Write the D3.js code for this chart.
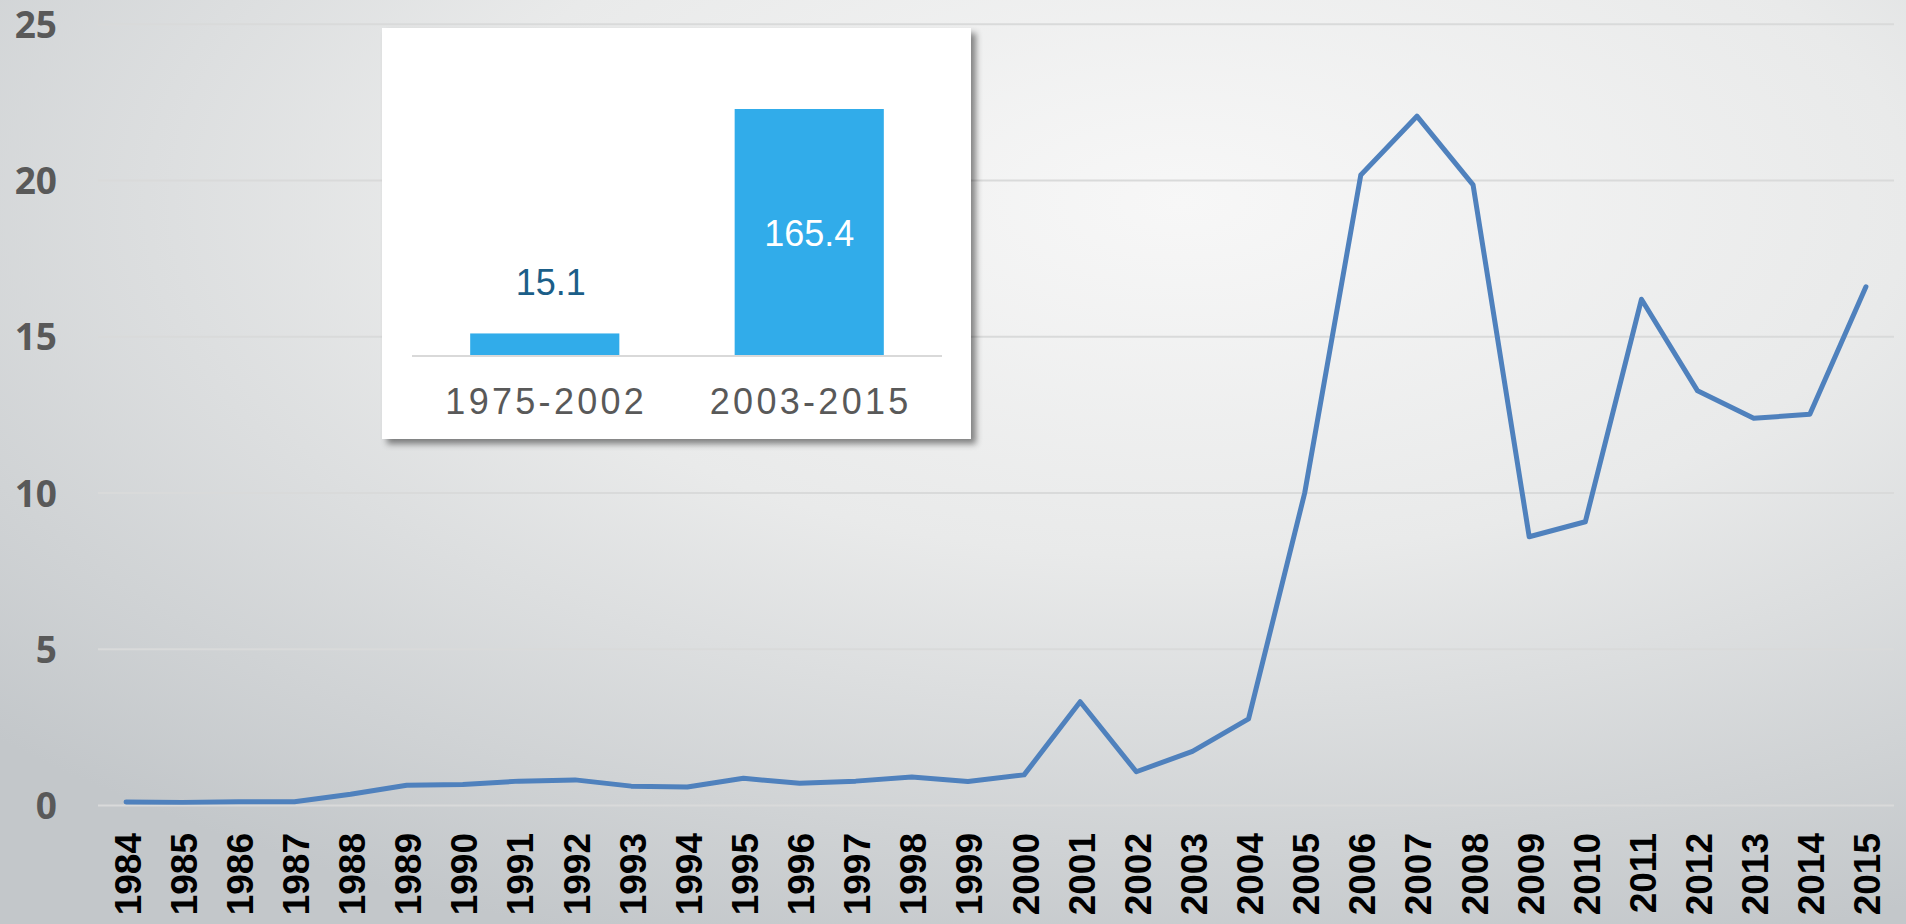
<!DOCTYPE html>
<html>
<head>
<meta charset="utf-8">
<script src="https://cdn.jsdelivr.net/npm/d3@7"></script>
<style>
  body { margin: 0; overflow: hidden; }
  svg { display: block; }
</style>
</head>
<body>
<div id="chart"></div>
<script>
// yearly series
const years = ["1984", "1985", "1986", "1987", "1988", "1989", "1990", "1991",
  "1992", "1993", "1994", "1995", "1996", "1997", "1998", "1999", "2000",
  "2001", "2002", "2003", "2004", "2005", "2006", "2007", "2008", "2009",
  "2010", "2011", "2012", "2013", "2014", "2015"];
const values = [0.11, 0.10, 0.12, 0.12, 0.36, 0.65, 0.67, 0.78, 0.82, 0.62,
  0.59, 0.87, 0.71, 0.78, 0.91, 0.77, 0.98, 3.32, 1.08, 1.73, 2.77, 10.0,
  20.18, 22.06, 19.86, 8.60, 9.08, 16.20, 13.27, 12.39, 12.52, 16.60];
const yTicks = [0, 5, 10, 15, 20, 25];

// inset totals
const periods = ["1975-2002", "2003-2015"];
const totals = [15.1, 165.4];

const W = 1906, H = 924;

const svg = d3.select("#chart").append("svg")
  .attr("width", W)
  .attr("height", H);

const defs = svg.append("defs");
const grad = defs.append("radialGradient")
  .attr("id", "bg")
  .attr("cx", "62%").attr("cy", "22%").attr("r", "85%");
grad.append("stop").attr("offset", "0%").attr("stop-color", "#f7f7f7");
grad.append("stop").attr("offset", "45%").attr("stop-color", "#e9eaea");
grad.append("stop").attr("offset", "100%").attr("stop-color", "#c3c7ca");

const shadow = defs.append("filter")
  .attr("id", "shadow")
  .attr("x", "-10%").attr("y", "-10%")
  .attr("width", "125%").attr("height", "125%");
shadow.append("feDropShadow")
  .attr("dx", 5).attr("dy", 5)
  .attr("stdDeviation", 3)
  .attr("flood-color", "#000")
  .attr("flood-opacity", 0.45);

svg.append("rect")
  .attr("width", W).attr("height", H)
  .attr("fill", "url(#bg)");

// main scales
const x = d3.scalePoint()
  .domain(years)
  .range([98, 1894])
  .padding(0.5);

const y = d3.scaleLinear()
  .domain([0, 25])
  .range([805.5, 24.3]);

// gridlines
svg.append("g")
  .selectAll("line")
  .data(yTicks)
  .join("line")
  .attr("x1", 98).attr("x2", 1894)
  .attr("y1", d => y(d)).attr("y2", d => y(d))
  .attr("stroke", "#d9dada")
  .attr("stroke-width", 2);

// y labels
svg.append("g")
  .selectAll("text")
  .data(yTicks)
  .join("text")
  .attr("x", 57)
  .attr("y", d => y(d) + 13.5)
  .attr("text-anchor", "end")
  .style("font-family", "'Open Sans', sans-serif")
  .style("font-weight", "bold")
  .style("font-size", "37px")
  .style("fill", "#595959")
  .text(d => d);

// x labels, rotated
svg.append("g")
  .selectAll("text")
  .data(years)
  .join("text")
  .attr("transform", d => `translate(${x(d) + 14.5},833) rotate(-90)`)
  .attr("text-anchor", "end")
  .style("font-family", "'Liberation Sans', Arial, sans-serif")
  .style("font-weight", "bold")
  .style("font-size", "37px")
  .style("fill", "#000")
  .text(d => d);

// the line
const line = d3.line()
  .x((d, i) => x(years[i]))
  .y(d => y(d));

svg.append("path")
  .datum(values)
  .attr("d", line)
  .attr("fill", "none")
  .attr("stroke", "#4f81bd")
  .attr("stroke-width", 5)
  .attr("stroke-linejoin", "round")
  .attr("stroke-linecap", "round");

// inset panel
const inset = svg.append("g");

inset.append("rect")
  .attr("x", 382).attr("y", 28)
  .attr("width", 589).attr("height", 411)
  .attr("fill", "#fff")
  .attr("filter", "url(#shadow)");

const bx = d3.scaleBand()
  .domain(periods)
  .range([412, 942])
  .paddingInner(0.436)
  .paddingOuter(0.22);

const by = d3.scaleLinear()
  .domain([0, 165.4])
  .range([356, 109]);

inset.selectAll(".bar")
  .data(totals)
  .join("rect")
  .attr("class", "bar")
  .attr("x", (d, i) => bx(periods[i]))
  .attr("width", bx.bandwidth())
  .attr("y", d => by(d))
  .attr("height", d => by(0) - by(d))
  .attr("fill", "#31acea");

inset.append("line")
  .attr("x1", 412).attr("x2", 942)
  .attr("y1", by(0)).attr("y2", by(0))
  .attr("stroke", "#d9d9d9")
  .attr("stroke-width", 2);

// value labels: small bar gets it above, big bar inside
inset.selectAll(".val")
  .data(totals)
  .join("text")
  .attr("class", "val")
  .attr("x", (d, i) => bx(periods[i]) + bx.bandwidth() / 2 + (i === 0 ? 6 : 0))
  .attr("y", (d, i) => i === 0 ? by(d) - 38 : (by(d) + by(0)) / 2 + 13)
  .attr("text-anchor", "middle")
  .style("font-family", "'Liberation Sans', Arial, sans-serif")
  .style("font-size", "36px")
  .style("fill", (d, i) => i === 0 ? "#1b5e88" : "#fff")
  .text(d => d3.format(".1f")(d));

inset.selectAll(".cat")
  .data(periods)
  .join("text")
  .attr("class", "cat")
  .attr("x", d => bx(d) + bx.bandwidth() / 2 + 1.5)
  .attr("y", 414)
  .attr("text-anchor", "middle")
  .style("font-family", "'Liberation Sans', Arial, sans-serif")
  .style("font-size", "36px")
  .style("letter-spacing", "3.3px")
  .style("fill", "#595959")
  .text(d => d);
</script>
</body>
</html>
